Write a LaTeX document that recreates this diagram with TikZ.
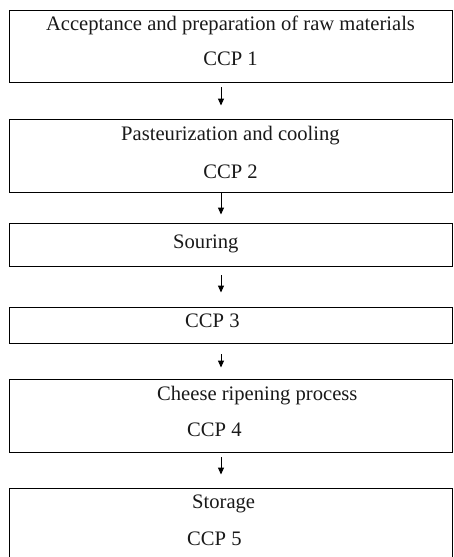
\documentclass[tikz,border=0pt]{standalone}
\usepackage{fontspec}
\setmainfont{Liberation Serif}
\usetikzlibrary{arrows.meta}
\begin{document}
\begin{tikzpicture}[x=1pt,y=-1pt,
  box/.style={draw=black,line width=0.9pt,minimum width=443pt,inner sep=0pt},
  lbl/.style={inner sep=0pt,font=\fontsize{20.6}{24}\selectfont,text=black!90},
  arr/.style={line width=1pt,-{Triangle[width=6pt,length=7pt]}}]
\useasboundingbox (0,0) rectangle (453,557);
\clip (0,0) rectangle (453,557);
% boxes
\node[box,minimum height=72pt] (b1) at (230.5,46) {};
\node[box,minimum height=73pt] (b2) at (230.5,155.5) {};
\node[box,minimum height=43pt] (b3) at (230.5,244.5) {};
\node[box,minimum height=36pt] (b4) at (230.5,325) {};
\node[box,minimum height=73pt] (b5) at (230.5,415.5) {};
\node[box,minimum height=82pt] (b6) at (230.5,529) {};
% texts
\node[lbl,anchor=base] (t1a) at (230.5,30) {Acceptance and preparation of raw materials};
\node[lbl,anchor=base] (t1b) at (230.5,65.7) {CCP 1};
\node[lbl,anchor=base] (t2a) at (230.5,140) {Pasteurization and cooling};
\node[lbl,anchor=base] (t2b) at (230.5,178) {CCP 2};
\node[lbl,anchor=base west] (t3) at (173,248) {Souring};
\node[lbl,anchor=base west] (t4) at (185,327) {CCP 3};
\node[lbl,anchor=base west] (t5a) at (157,400.7) {Cheese ripening process};
\node[lbl,anchor=base west] (t5b) at (187,436) {CCP 4};
\node[lbl,anchor=base west] (t6a) at (192,508) {Storage};
\node[lbl,anchor=base west] (t6b) at (187,545) {CCP 5};
% arrows
\coordinate (ax) at (221,0);
\draw[arr,shorten <=5pt,shorten >=13pt] (b1.south -| ax) -- (b2.north -| ax);
\draw[arr,shorten <=1pt,shorten >=8pt] (b2.south -| ax) -- (b3.north -| ax);
\draw[arr,shorten <=9pt,shorten >=14pt] (b3.south -| ax) -- (b4.north -| ax);
\draw[arr,shorten <=11pt,shorten >=11pt] (b4.south -| ax) -- (b5.north -| ax);
\draw[arr,shorten <=5pt,shorten >=13pt] (b5.south -| ax) -- (b6.north -| ax);
\end{tikzpicture}
\end{document}
